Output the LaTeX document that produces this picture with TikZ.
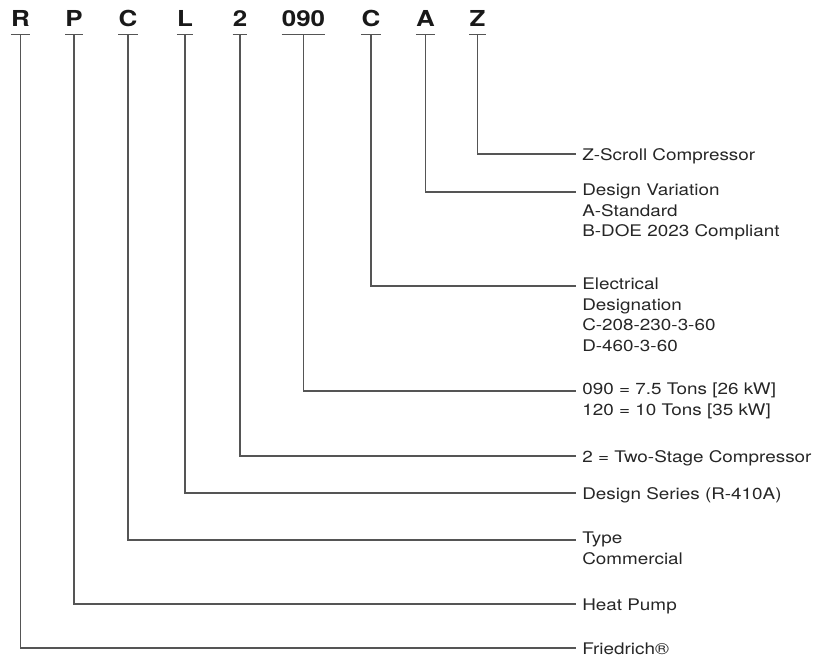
\documentclass[tikz,border=0pt]{standalone}
\usepackage{fontspec}
\setmainfont[FakeStretch=1.18]{TeX Gyre Heros}
\newfontfamily\codefont[FakeStretch=1.18]{TeX Gyre Heros}
\usetikzlibrary{positioning}
\definecolor{wiregray}{HTML}{555555}
\definecolor{textgray}{HTML}{262626}

\begin{document}
\begin{tikzpicture}[x=0.75pt, y=-0.75pt]
    \tikzset{letter/.style={font=\codefont\fontsize{16.5}{19}\selectfont\bfseries, text=black!90, inner xsep=0pt, inner ysep=0pt, text depth=5.5pt, anchor=base},
        desc/.style={font=\fontsize{12}{15.4}\selectfont, text=textgray, align=left, inner sep=0pt, anchor=north west, execute at begin node=\strut},
        wire/.style={draw=wiregray, line width=0.9pt}
    }
    \useasboundingbox (0,0) rectangle (817,659);

    \foreach \n / \l / \x / \y / \t in {
        brand/R/20.5/648/{Friedrich®},
        pump/P/74/604/{Heat Pump},
        type/C/128/540/{Type\\Commercial},
        series/L/185/493/{Design Series (R-410A)},
        stage/2/240/456/{2 = Two-Stage Compressor},
        size/090/303.5/391/{090 = 7.5 Tons [26 kW]\\120 = 10 Tons [35 kW]},
        volt/C/371/286/{Electrical\\Designation\\C-208-230-3-60\\D-460-3-60},
        design/A/425.5/192/{Design Variation\\A-Standard\\B-DOE 2023 Compliant},
        comp/Z/477.5/154/{Z-Scroll Compressor}} {
        \node (\n) [letter] at (\x, 27) {\l};
        \coordinate (\n-End) at (576, \y);
        \node (\n-Text) [desc] at ([shift={(6,-8.4)}]\n-End) {\t};

        \draw [wire] (\n.south west) -- (\n.south east);
        \draw [wire] (\n.south) |- (\n-End);
    }
\end{tikzpicture}
\end{document}
